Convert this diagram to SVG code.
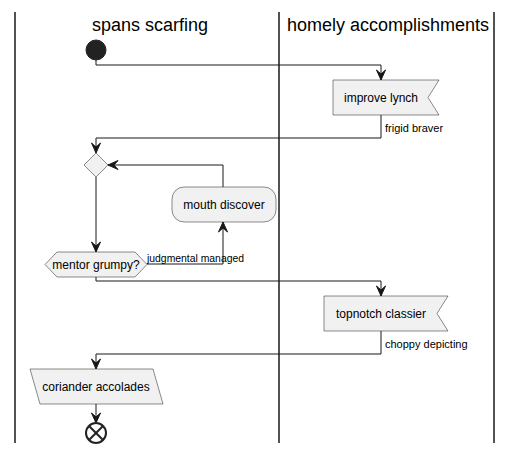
<svg xmlns="http://www.w3.org/2000/svg" width="511" height="455" viewBox="0 0 511 455">
<defs>
<style>
.lane{stroke:#181818;stroke-width:1.5;fill:none}
.title{font-family:"Liberation Sans",Arial,sans-serif;font-size:18px;fill:#000}
.box{fill:#F1F1F1;stroke:#181818;stroke-width:0.5}
.t{font-family:"Liberation Sans",Arial,sans-serif;font-size:12px;fill:#000;text-anchor:middle}
.lbl{font-family:"Liberation Sans",Arial,sans-serif;font-size:11px;fill:#000}
.edge{stroke:#181818;stroke-width:1;fill:none}
.ah{fill:#181818;stroke:#181818;stroke-width:1}
</style>
</defs>
<rect width="511" height="455" fill="#FFFFFF"/>
<g id="lanes">
<line class="lane" x1="15" y1="12" x2="15" y2="443"/>
<line class="lane" x1="279" y1="12" x2="279" y2="443"/>
<line class="lane" x1="494" y1="12" x2="494" y2="443"/>
<text class="title" x="150" y="31" text-anchor="middle">spans scarfing</text>
<text class="title" x="388" y="31" text-anchor="middle">homely accomplishments</text>
</g>
<g id="connectors">
<polyline class="edge" points="96,60 96,65 381,65 381,80"/>
<polygon class="ah" points="376.5,70 381,80 385.5,70 381,74"/>
<polyline class="edge" points="381,115 381,138 96,138 96,153"/>
<polygon class="ah" points="91.5,143 96,153 100.5,143 96,147"/>
<text class="lbl" x="385" y="132">frigid braver</text>
<polyline class="edge" points="223,187 223,165 108,165"/>
<polygon class="ah" points="118,160.5 108,165 118,169.5 114,165"/>
<polyline class="edge" points="96,177 96,252"/>
<polygon class="ah" points="91.5,242 96,252 100.5,242 96,246"/>
<polyline class="edge" points="147,264 223,264 223,222"/>
<polygon class="ah" points="218.5,232 223,222 227.5,232 223,228"/>
<text class="lbl" x="147" y="261.5" textLength="97" lengthAdjust="spacingAndGlyphs">judgmental managed</text>
<polyline class="edge" points="96,277 96,281 381,281 381,296"/>
<polygon class="ah" points="376.5,286 381,296 385.5,286 381,290"/>
<polyline class="edge" points="381,331 381,354 96,354 96,369"/>
<polygon class="ah" points="91.5,359 96,369 100.5,359 96,363"/>
<text class="lbl" x="385" y="348">choppy depicting</text>
<polyline class="edge" points="96,404 96,423"/>
<polygon class="ah" points="91.5,413 96,423 100.5,413 96,417"/>
</g>
<g id="start">
<circle cx="96" cy="50" r="10" fill="#222222" stroke="#222222"/>
</g>
<g id="improve-lynch">
<polygon class="box" points="333,80 439,80 428,97.5 439,115 333,115"/>
<text class="t" x="381" y="102">improve lynch</text>
</g>
<g id="merge">
<polygon class="box" points="96,153 108,165 96,177 84,165"/>
</g>
<g id="mouth-discover">
<rect class="box" x="172" y="187" width="104" height="35" rx="12" ry="12"/>
<text class="t" x="224" y="209">mouth discover</text>
</g>
<g id="mentor-grumpy">
<polygon class="box" points="45,264.5 57,252 135,252 147,264.5 135,277 57,277"/>
<text class="t" x="96" y="269">mentor grumpy?</text>
</g>
<g id="topnotch-classier">
<polygon class="box" points="324,296 448,296 437,313.5 448,331 324,331"/>
<text class="t" x="381" y="318">topnotch classier</text>
</g>
<g id="coriander-accolades">
<polygon class="box" points="30,369 153,369 163,404 40,404"/>
<text class="t" x="96" y="391">coriander accolades</text>
</g>
<g id="end">
<circle cx="96" cy="433" r="10" fill="#FFFFFF" stroke="#222222" stroke-width="2"/>
<line x1="89" y1="426" x2="103" y2="440" stroke="#222222" stroke-width="2"/>
<line x1="103" y1="426" x2="89" y2="440" stroke="#222222" stroke-width="2"/>
</g>
</svg>
